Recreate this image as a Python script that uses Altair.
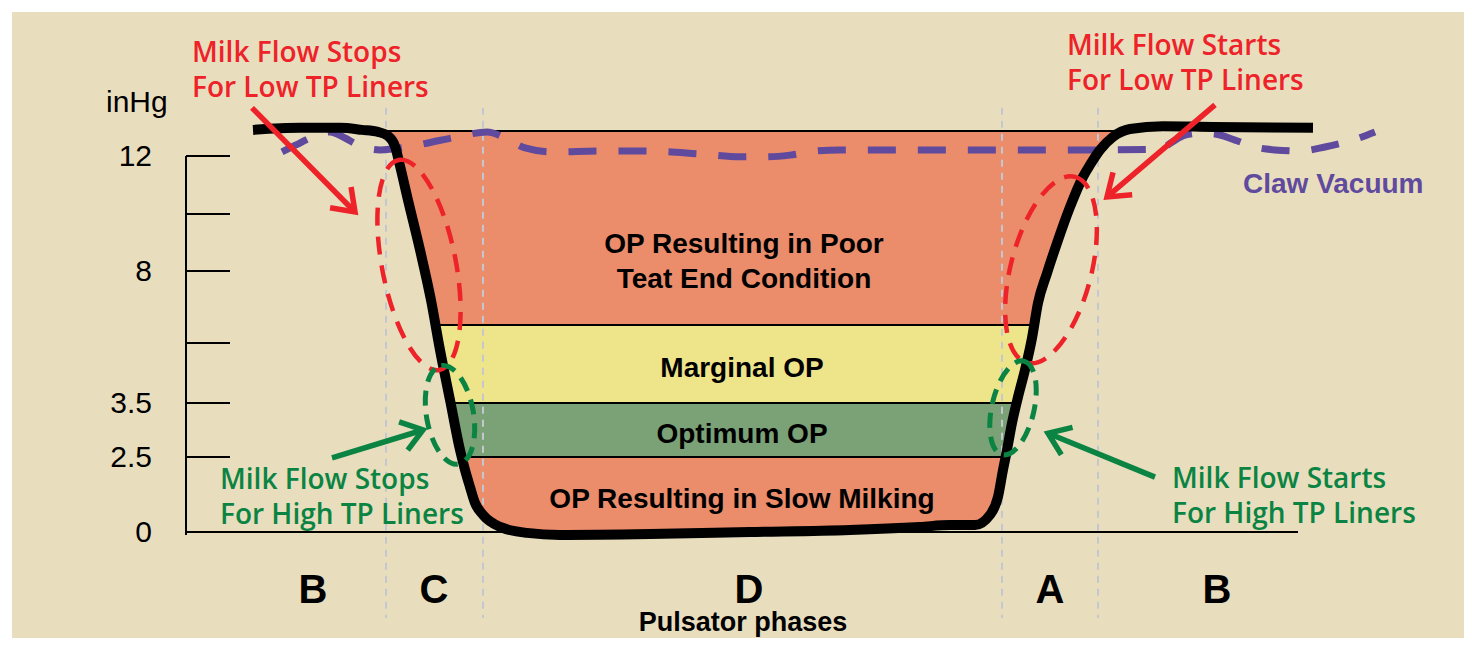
import math
import altair as alt
import pandas as pd

# ---------------- data (time in ms from start of phase C, vacuum in inHg) ----------------
phase_bounds_ms = [0, 97, 616, 712]
phase_names = ["B", "C", "D", "A", "B"]
phase_mid_ms = [-73, 48, 363, 664, 831]

tick_values = [0, 2.5, 3.5, 6, 8, 10, 12]
tick_labels = ["0", "2.5", "3.5", "", "8", "", "12"]

band_names = ["OP Resulting in Slow Milking", "Optimum OP", "Marginal OP",
              "OP Resulting in Poor Teat End Condition"]
band_low = [0.0, 2.5, 3.5, 6.5]
band_high = [2.5, 3.5, 6.5, 12.86]
band_fill = ["#EB8C6B", "#7BA176", "#EEE48A", "#EB8C6B"]
band_from_ms = -10
band_to_ms = 745

# pulsation chamber vacuum (black)
pulse_t = [-133, -86, -46, -24, -8, 2, 9, 14, 22, 34, 45, 54, 64, 74, 79, 84, 89, 97,
           114, 141, 174, 264, 364, 464, 534, 564, 589, 604, 612, 617, 621, 626, 632,
           639, 646, 652, 661, 671, 684, 697, 704, 714, 727, 744, 777, 827, 927]
pulse_v = [12.90, 12.97, 12.97, 12.90, 12.83, 12.69, 12.34, 11.66, 10.48, 8.74, 7.19,
           5.71, 3.63, 2.63, 2.07, 1.50, 0.97, 0.57, 0.17, -0.03, -0.10, -0.07, 0.0,
           0.07, 0.17, 0.23, 0.23, 0.57, 1.17, 2.07, 2.63, 3.13, 3.75, 4.88, 6.14,
           7.11, 7.94, 8.98, 10.24, 11.28, 11.69, 12.21, 12.66, 12.93, 13.03, 13.0, 12.97]

# claw vacuum (purple dashed)
claw_t = [-104, -90, -76, -56, -41, -28, -6, 21, 42, 71, 101, 121, 139, 167, 214, 264,
          314, 354, 379, 404, 429, 454, 714, 774, 786, 799, 814, 829, 849, 869, 889,
          914, 939, 964, 989]
claw_v = [12.14, 12.38, 12.62, 12.83, 12.62, 12.38, 12.21, 12.31, 12.45, 12.66, 12.83,
          12.59, 12.28, 12.14, 12.17, 12.17, 12.07, 11.97, 11.97, 12.03, 12.17, 12.21,
          12.21, 12.24, 12.48, 12.72, 12.79, 12.76, 12.55, 12.31, 12.21, 12.17, 12.31,
          12.52, 12.83]

# band labels
band_label_text = ["OP Resulting in Poor", "Teat End Condition", "Marginal OP",
                   "Optimum OP", "OP Resulting in Slow Milking"]
band_label_t = [358, 358, 356, 356, 356]
band_label_v = [8.63, 7.53, 4.58, 2.76, 0.80]

# annotations (two lines each; position = first-line baseline)
note_text = ["Milk Flow Stops\nFor Low TP Liners", "Milk Flow Starts\nFor Low TP Liners",
             "Milk Flow Stops\nFor High TP Liners", "Milk Flow Starts\nFor High TP Liners"]
note_t = [-194, 681, -166, 786]
note_v = [15.24, 15.48, 1.43, 1.47]
note_color = ["#EE2229", "#EE2229", "#0B8443", "#0B8443"]

# arrows: tail -> tip
arrow_t0 = [-134, 829, -54, 769]
arrow_v0 = [13.66, 13.76, 2.47, 1.83]
arrow_t1 = [-31, 721, 37, 662]
arrow_v1 = [10.07, 10.59, 3.00, 2.94]
arrow_color = ["#EE2229", "#EE2229", "#0B8443", "#0B8443"]

# dashed ellipse centres
ell_t = [33, 665, 64, 627]
ell_v = [8.21, 8.04, 3.28, 3.41]
ell_color = ["#EE2229", "#EE2229", "#0B8443", "#0B8443"]

# ---------------- styles / scale set-up ----------------
BEIGE = "#E8DEBE"
PURPLE = "#604A9E"
GRAY = "#C4C7CF"
W, H = 1452, 626
X_DOMAIN = [-374, 1078]
# the printed inHg axis is not uniform: knots (inHg) and their height above the baseline
AX_KNOTS = [0, 2.5, 3.5, 6, 8, 10, 12]
AX_HEIGHT = [0, 75, 129, 189, 261, 318, 376]
Y_DOMAIN = [-106, 520]          # axis-height units covered by the plot area
AXIS_T = -200                   # where the vacuum axis stands (ms)
TICK_END_T = -156
LABEL_T = -234
# (semi-major px, minor/major ratio, rotation deg, dash, width)
ELL_STYLE = [(107, 0.345, 349, [18, 11], 4.5), (96, 0.42, 14.5, [18, 11], 4.5),
             (50, 0.47, 350, [15, 9], 5), (48, 0.44, 13, [15, 9], 5)]


def ax(v):
    """inHg -> height on the (non-uniform) printed axis, linear beyond the ends."""
    d, r = AX_KNOTS, AX_HEIGHT
    i = 0
    for k in range(len(d) - 1):
        if v >= d[k]:
            i = k
    i = min(i, len(d) - 2)
    return r[i] + (v - d[i]) * (r[i + 1] - r[i]) / (d[i + 1] - d[i])


def x_px(t):
    return (t - X_DOMAIN[0]) * W / (X_DOMAIN[1] - X_DOMAIN[0])


def y_px(v):
    return (Y_DOMAIN[1] - ax(v)) * H / (Y_DOMAIN[1] - Y_DOMAIN[0])


def ellipse_path(r):
    k = 0.5523
    f = lambda a: f"{a:.4f}"
    return (f"M 0,-1 C {f(k*r)},-1 {f(r)},{f(-k)} {f(r)},0 "
            f"C {f(r)},{f(k)} {f(k*r)},1 0,1 "
            f"C {f(-k*r)},1 {f(-r)},{f(k)} {f(-r)},0 "
            f"C {f(-r)},{f(-k)} {f(-k*r)},-1 0,-1 Z")


xs = alt.Scale(domain=X_DOMAIN, nice=False, zero=False)
ys = alt.Scale(domain=Y_DOMAIN, nice=False, zero=False)


def X(f):
    return alt.X(f, scale=xs, axis=None)


def Y(f):
    return alt.Y(f, scale=ys, axis=None)


# ---------------- layers ----------------
df_bands = pd.DataFrame({"name": band_names, "lo": [ax(v) for v in band_low],
                         "hi": [ax(v) for v in band_high], "fill": band_fill,
                         "t0": [band_from_ms] * 4, "t1": [band_to_ms] * 4})
bands = alt.Chart(df_bands).mark_rect(stroke="black", strokeWidth=2, opacity=1).encode(
    x=X("t0:Q"), x2="t1:Q", y=Y("lo:Q"), y2="hi:Q", color=alt.Color("fill:N", scale=None))

df_pulse = pd.DataFrame({"t": pulse_t, "y": [ax(v) for v in pulse_v],
                         "y0": [ax(0)] * len(pulse_t)})
mask = alt.Chart(df_pulse).mark_area(color=BEIGE, opacity=1, interpolate="monotone").encode(
    x=X("t:Q"), y=Y("y:Q"), y2="y0:Q")

df_phase = pd.DataFrame({"t": phase_bounds_ms, "top": [ax(13.66)] * 4, "bot": [ax(-2.87)] * 4})
phase_lines = alt.Chart(df_phase).mark_rule(color=GRAY, strokeWidth=2, strokeDash=[7, 6]).encode(
    x=X("t:Q"), y=Y("top:Q"), y2="bot:Q")

df_axv = pd.DataFrame({"t": [AXIS_T], "top": [ax(12)], "bot": [ax(-0.1)]})
axis_v = alt.Chart(df_axv).mark_rule(color="black", strokeWidth=2).encode(
    x=X("t:Q"), y=Y("top:Q"), y2="bot:Q")
df_axh = pd.DataFrame({"t0": [AXIS_T], "t1": [912], "y": [ax(0)]})
axis_h = alt.Chart(df_axh).mark_rule(color="black", strokeWidth=2).encode(
    x=X("t0:Q"), x2="t1:Q", y=Y("y:Q"))
df_ticks = pd.DataFrame({"y": [ax(v) for v in tick_values], "label": tick_labels,
                         "t0": [AXIS_T] * 7, "t1": [TICK_END_T] * 7, "tl": [LABEL_T] * 7})
ticks = alt.Chart(df_ticks).mark_rule(color="black", strokeWidth=1.8).encode(
    x=X("t0:Q"), x2="t1:Q", y=Y("y:Q"))
tick_text = alt.Chart(df_ticks).mark_text(align="right", baseline="middle", dy=1, fontSize=30,
                                          font="Liberation Sans", color="black").encode(
    x=X("tl:Q"), y=Y("y:Q"), text="label:N")
unit_text = alt.Chart(pd.DataFrame({"s": ["inHg"], "t": [-280], "y": [ax(13.52)]})).mark_text(
    align="left", baseline="alphabetic", fontSize=30, font="Liberation Sans", color="black").encode(
    x=X("t:Q"), y=Y("y:Q"), text="s:N")

df_claw = pd.DataFrame({"t": claw_t, "y": [ax(v) for v in claw_v]})
claw = alt.Chart(df_claw).mark_line(color=PURPLE, strokeWidth=7, strokeDash=[28, 22],
                                    strokeCap="butt", interpolate="monotone").encode(
    x=X("t:Q"), y=Y("y:Q"))
claw_label = alt.Chart(pd.DataFrame({"s": ["Claw Vacuum"], "t": [857], "y": [ax(10.72)]})).mark_text(
    align="left", baseline="alphabetic", fontSize=28, fontWeight="bold", font="Liberation Sans",
    color=PURPLE).encode(x=X("t:Q"), y=Y("y:Q"), text="s:N")

pulse = alt.Chart(df_pulse).mark_line(color="black", strokeWidth=10, strokeJoin="round",
                                      strokeCap="butt", interpolate="monotone").encode(
    x=X("t:Q"), y=Y("y:Q"))

ellipses = []
for i in range(len(ell_t)):
    a, ratio, rot, dash, sw = ELL_STYLE[i]
    ellipses.append(
        alt.Chart(pd.DataFrame({"t": [ell_t[i]], "y": [ax(ell_v[i])]})).mark_point(
            shape=ellipse_path(ratio), size=(2 * a) ** 2, angle=rot, filled=False, opacity=1,
            color=ell_color[i], strokeWidth=sw, strokeDash=dash).encode(
            x=X("t:Q"), y=Y("y:Q")))

arrows = []
for i in range(len(arrow_t0)):
    dx = x_px(arrow_t1[i]) - x_px(arrow_t0[i])
    dy = y_px(arrow_v1[i]) - y_px(arrow_v0[i])
    ang = math.degrees(math.atan2(dy, dx)) % 360
    d = pd.DataFrame({"t0": [arrow_t0[i]], "y0": [ax(arrow_v0[i])],
                      "t1": [arrow_t1[i]], "y1": [ax(arrow_v1[i])]})
    arrows.append(alt.Chart(d).mark_rule(strokeWidth=5.5, strokeCap="butt",
                                         color=arrow_color[i]).encode(
        x=X("t0:Q"), y=Y("y0:Q"), x2="t1:Q", y2="y1:Q"))
    arrows.append(alt.Chart(d).mark_point(shape="M -1,-0.72 L 0,0 L -1,0.72", size=1681,
                                          filled=False, opacity=1, strokeWidth=5.5,
                                          angle=round(ang, 1), color=arrow_color[i]).encode(
        x=X("t1:Q"), y=Y("y1:Q")))

df_notes = pd.DataFrame({"s": note_text, "t": note_t, "y": [ax(v) for v in note_v],
                         "c": note_color})
notes = alt.Chart(df_notes).mark_text(align="left", baseline="alphabetic", fontSize=28,
                                      fontWeight=600, font="Open Sans", lineBreak="\n",
                                      lineHeight=35).encode(
    x=X("t:Q"), y=Y("y:Q"), text="s:N", color=alt.Color("c:N", scale=None))

df_bl = pd.DataFrame({"s": band_label_text, "t": band_label_t,
                      "y": [ax(v) for v in band_label_v]})
band_labels = alt.Chart(df_bl).mark_text(align="center", baseline="alphabetic", fontSize=28,
                                         fontWeight="bold", font="Liberation Sans",
                                         color="black").encode(
    x=X("t:Q"), y=Y("y:Q"), text="s:N")

df_pn = pd.DataFrame({"s": phase_names, "t": phase_mid_ms, "y": [ax(-2.37)] * 5})
phase_text = alt.Chart(df_pn).mark_text(align="center", baseline="alphabetic", fontSize=40,
                                        fontWeight="bold", font="Liberation Sans",
                                        color="black").encode(
    x=X("t:Q"), y=Y("y:Q"), text="s:N")
phase_title = alt.Chart(pd.DataFrame({"s": ["Pulsator phases"], "t": [357],
                                      "y": [ax(-3.3)]})).mark_text(
    align="center", baseline="alphabetic", fontSize=27, fontWeight="bold",
    font="Liberation Sans", color="black").encode(
    x=X("t:Q"), y=Y("y:Q"), text="s:N")

chart = alt.layer(
    bands, mask, phase_lines, axis_v, axis_h, ticks, tick_text, unit_text,
    claw, pulse, *ellipses, *arrows, notes, claw_label, band_labels,
    phase_text, phase_title
).properties(
    width=W, height=H, background="white",
    padding={"left": 4, "top": 4, "right": 0, "bottom": 0},
    autosize=alt.AutoSizeParams(type="none"),
).configure_view(fill=BEIGE, strokeWidth=0)

chart.save("out.html", embed_options={"renderer": "svg", "actions": False})
